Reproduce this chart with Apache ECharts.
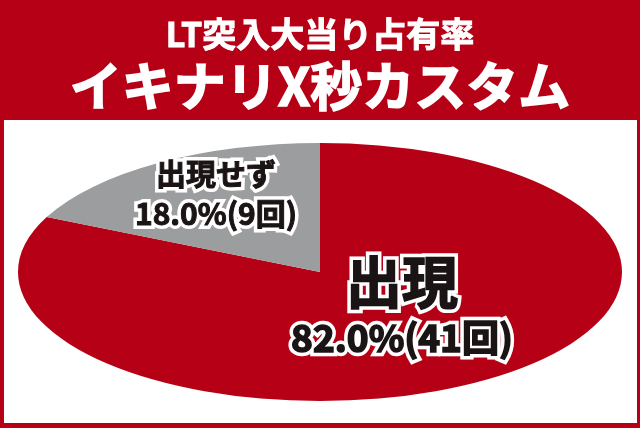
<!DOCTYPE html>
<html>
<head>
<meta charset="utf-8">
<script src="https://cdn.jsdelivr.net/npm/echarts@6/dist/echarts.min.js"></script>
<style>
html,body{margin:0;padding:0;background:#b50015;}
#c{width:640px;height:428px;}
</style>
</head>
<body>
<div id="c"></div>
<script>
const titleLines = ['LT突入大当り占有率', 'イキナリX秒カスタム'];
const categories = ['出現', '出現せず'];
const counts = [41, 9];
const sliceColors = ['#b50015', '#9c9d9f'];

const total = counts.reduce((a, b) => a + b, 0);
const FONT = '"Noto Sans CJK JP", "Noto Sans", sans-serif';
const W = 'bold';
const INK = '#1a1414';

// label placement styles (offsets from the pie centre)
const labelStyle = [
  { dx: 82, dy: 0, nameSize: 56, nameY: 10, pctSize: 37, pctY: 66, heavy: 1.6 },
  { dx: -104, dy: -76, nameSize: 30, nameY: -22, pctSize: 30, pctY: 18, heavy: 1.0 }
];

const chart = echarts.init(document.getElementById('c'), null, { renderer: 'canvas' });

const CX = 320, CY = 272, R = 302, SY = 129 / 302;

function outlined(text, x, y, size, heavy) {
  const font = W + ' ' + size + 'px ' + FONT;
  return [
    { type: 'text', z2: 100, x: x, y: y,
      style: { text: text, fill: '#ffffff', stroke: '#ffffff', lineWidth: 7 + heavy, lineJoin: 'round',
        font: font, align: 'center', verticalAlign: 'middle' } },
    { type: 'text', z2: 101, x: x, y: y,
      style: { text: text, fill: INK, stroke: INK, lineWidth: heavy, lineJoin: 'round',
        font: font, align: 'center', verticalAlign: 'middle' } }
  ];
}

chart.setOption({
  backgroundColor: '#b50015',
  animation: false,
  graphic: [
    { type: 'rect', shape: { x: 4, y: 120, width: 633, height: 303 }, style: { fill: '#ffffff' }, z: 0 },
    { type: 'text', x: 320, y: 34, z: 10, style: { text: titleLines[0], fill: '#ffffff', stroke: '#ffffff', lineWidth: 1, font: W + ' 34px ' + FONT, align: 'center', verticalAlign: 'middle' } },
    { type: 'text', x: 320, y: 86, z: 10, style: { text: titleLines[1], fill: '#ffffff', stroke: '#ffffff', lineWidth: 1.6, font: W + ' 52px ' + FONT, align: 'center', verticalAlign: 'middle' } }
  ],
  series: [{
    type: 'custom',
    coordinateSystem: 'none',
    data: counts.map((v, i) => ({ name: categories[i], value: [v] })),
    z: 5,
    renderItem: function (params, api) {
      const i = params.dataIndex;
      const v = api.value(0);
      let before = 0;
      for (let k = 0; k < i; k++) before += counts[k];
      const a0 = -Math.PI / 2 + before / total * Math.PI * 2;
      const a1 = -Math.PI / 2 + (before + v) / total * Math.PI * 2;
      const pct = (v / total * 100).toFixed(1) + '%(' + v + '回)';
      const ls = labelStyle[i];
      const lx = CX + ls.dx;
      const ly = CY + ls.dy;
      return {
        type: 'group',
        children: [
          {
            type: 'sector',
            shape: { cx: CX, cy: CY, r: R, startAngle: a0, endAngle: a1, clockwise: true },
            originX: CX, originY: CY, scaleY: SY,
            style: { fill: sliceColors[i] }
          }
        ].concat(
          outlined(categories[i], lx, ly + ls.nameY, ls.nameSize, ls.heavy),
          outlined(pct, lx, ly + ls.pctY, ls.pctSize, ls.heavy)
        )
      };
    }
  }]
});
</script>
</body>
</html>
